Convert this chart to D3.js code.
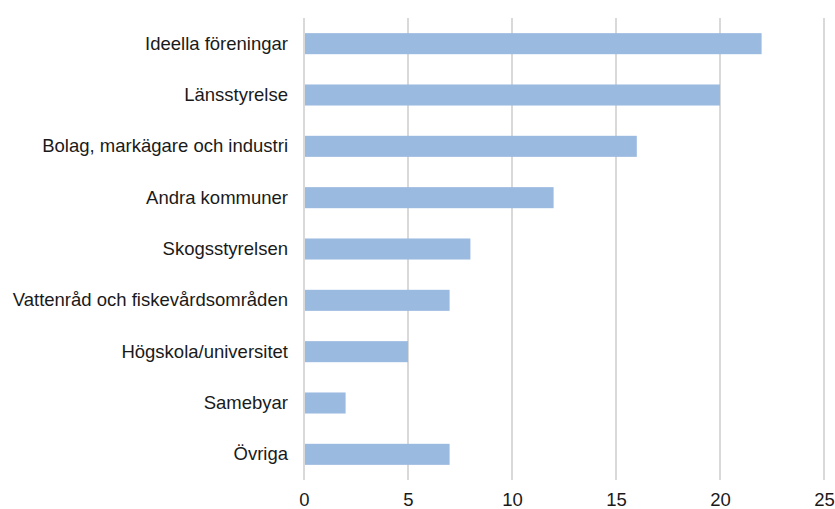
<!DOCTYPE html>
<html>
<head>
<meta charset="utf-8">
<script src="https://cdn.jsdelivr.net/npm/d3@7"></script>
<style>
  body { margin: 0; background: #fff; }
  svg { display: block; font-family: "Liberation Sans", Arial, sans-serif; }
</style>
</head>
<body>
<svg id="chart" width="835" height="509"></svg>
<script>
// kategorier och antal
var categories = [
    'Ideella föreningar',
    'Länsstyrelse',
    'Bolag, markägare och industri',
    'Andra kommuner',
    'Skogsstyrelsen',
    'Vattenråd och fiskevårdsområden',
    'Högskola/universitet',
    'Samebyar',
    'Övriga'
];
var values = [22, 20, 16, 12, 8, 7, 5, 2, 7];
var xTicks = [0, 5, 10, 15, 20, 25];

(function(){

    var data = categories.map(function(c, i){ return {label: c, value: values[i]}; });

    var svg = d3.select('#chart');
    var plotLeft = 304, plotRight = 824, plotTop = 18, plotBottom = 480;

    var x = d3.scaleLinear().domain([0, 25]).range([plotLeft, plotRight]);
    var y = d3.scaleBand()
        .domain(categories)
        .range([plotTop, plotBottom])
        .paddingInner(0.59)
        .paddingOuter(0.295);

    // rutnät
    svg.append('g')
        .selectAll('line')
        .data(xTicks)
        .enter()
        .append('line')
        .attr('x1', function(d){ return x(d); })
        .attr('x2', function(d){ return x(d); })
        .attr('y1', plotTop)
        .attr('y2', plotBottom)
        .style('stroke', '#d9d9d9')
        .style('stroke-width', 2);

    // staplar
    svg.append('g')
        .selectAll('rect')
        .data(data)
        .enter()
        .append('rect')
        .attr('x', x(0) + 1)
        .attr('y', function(d){ return y(d.label); })
        .attr('width', function(d){ return x(d.value) - x(0) - 1; })
        .attr('height', y.bandwidth())
        .style('fill', '#9bbae0');

    // kategorietiketter
    var yAxis = d3.axisLeft(y).tickSize(0).tickPadding(16);
    svg.append('g')
        .attr('transform', 'translate(' + plotLeft + ',0)')
        .call(yAxis)
        .call(function(g){ g.select('.domain').remove(); })
        .selectAll('text')
        .style('font-size', '18.5px')
        .style('fill', '#1a1a1a');

    // x-axel
    var xAxis = d3.axisBottom(x).tickValues(xTicks).tickSize(0).tickPadding(13);
    svg.append('g')
        .attr('transform', 'translate(0,' + plotBottom + ')')
        .call(xAxis)
        .call(function(g){ g.select('.domain').remove(); })
        .selectAll('text')
        .style('font-size', '18.5px')
        .style('fill', '#1a1a1a');

})();
</script>
</body>
</html>
